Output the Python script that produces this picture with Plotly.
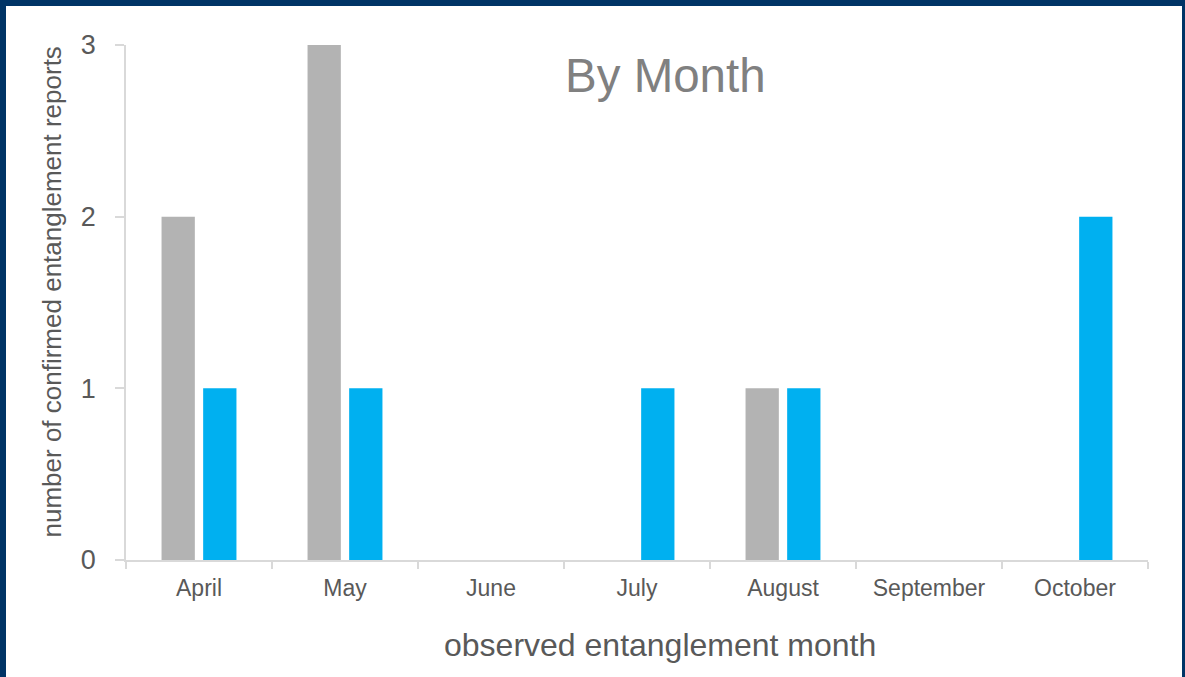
import plotly.graph_objects as go

months = ["April", "May", "June", "July", "August", "September", "October"]
series_a = [2, 3, 0, 0, 1, 0, 0]
series_b = [1, 1, 0, 1, 1, 0, 2]
y_ticks = [0, 1, 2, 3]

W, H = 1185, 677
ML, MR, MT, MB = 126, 37, 45, 117
PW, PH = W - ML - MR, H - MT - MB

def px(xp):
    return (xp - ML) / PW

def py(yp):
    return (H - MB - yp) / PH

FONT = "Liberation Sans, Arial, sans-serif"
NAVY = "#003466"

fig = go.Figure()
fig.add_trace(go.Bar(x=months, y=series_a, marker_color="#b3b3b3",
                     marker_line_width=0, showlegend=False, name="Series A"))
fig.add_trace(go.Bar(x=months, y=series_b, marker_color="#00b0f0",
                     marker_line_width=0, showlegend=False, name="Series B"))

fig.update_layout(
    width=W, height=H,
    margin=dict(l=ML, r=MR, t=MT, b=MB, pad=0),
    paper_bgcolor="white", plot_bgcolor="white",
    barmode="group", bargap=0.43, bargroupgap=0.2,
    font=dict(family=FONT, color="#595959"),
    xaxis=dict(
        showline=True, linecolor="#d9d9d9", linewidth=1.5,
        ticks="outside", tickson="boundaries", ticklen=7, tickcolor="#d9d9d9",
        tickwidth=1.5, showgrid=False, tickfont=dict(size=23, color="#595959"),
        ticklabelstandoff=7,
    ),
    yaxis=dict(
        range=[0, 3], tickvals=y_ticks, showline=True, linecolor="#d9d9d9",
        linewidth=1.5, ticks="outside", ticklen=9, tickcolor="#d9d9d9", tickwidth=1.5,
        showgrid=False, zeroline=False, tickfont=dict(size=27, color="#595959"),
        ticklabelstandoff=14,
    ),
    annotations=[
        dict(text="By Month", x=px(665.5), y=py(76), xref="paper", yref="paper",
             xanchor="center", yanchor="middle", showarrow=False,
             font=dict(size=47.5, color="#808080", family=FONT)),
        dict(text="observed entanglement month", x=px(660), y=py(645),
             xref="paper", yref="paper", xanchor="center", yanchor="middle",
             showarrow=False, font=dict(size=32, color="#595959", family=FONT)),
        dict(text="number of confirmed entanglement reports", x=px(51), y=py(292.5),
             xref="paper", yref="paper", xanchor="center", yanchor="middle",
             textangle=-90, showarrow=False,
             font=dict(size=26, color="#595959", family=FONT)),
    ],
    shapes=[
        dict(type="rect", xref="paper", yref="paper", layer="above",
             x0=px(0), x1=px(6), y0=py(H), y1=py(0), fillcolor=NAVY, line_width=0),
        dict(type="rect", xref="paper", yref="paper", layer="above",
             x0=px(0), x1=px(W), y0=py(6), y1=py(0), fillcolor=NAVY, line_width=0),
        dict(type="rect", xref="paper", yref="paper", layer="above",
             x0=px(1182), x1=px(W), y0=py(H), y1=py(0), fillcolor=NAVY, line_width=0),
    ],
)

fig.write_html("out.html")
